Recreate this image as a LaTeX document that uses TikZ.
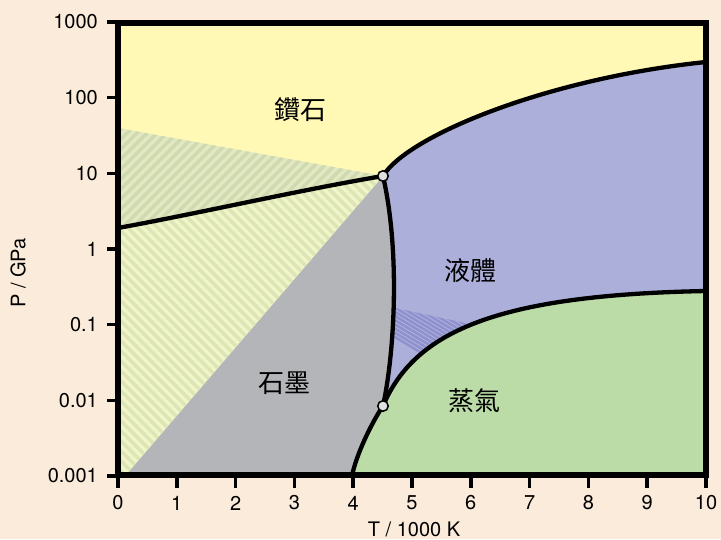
\documentclass[tikz,border=0pt]{standalone}
\usepackage{fontspec}
\setmainfont{TeX Gyre Heros}
\newfontfamily\cjk{Noto Sans CJK TC}
\definecolor{bgc}{RGB}{250,235,219}
\definecolor{diam}{RGB}{255,249,181}
\definecolor{liq}{RGB}{173,175,219}
\definecolor{vap}{RGB}{187,220,166}
\definecolor{graph}{RGB}{179,181,184}
\definecolor{hupbase}{RGB}{226,232,193}
\definecolor{hupstripe}{RGB}{208,218,176}
\definecolor{hlobase}{RGB}{240,244,198}
\definecolor{hlostripe}{RGB}{220,229,182}
\definecolor{hblue}{RGB}{142,145,206}
\begin{document}
\begin{tikzpicture}[x=1pt,y=-1pt,
  boundary/.style={line width=4.3pt,black,line cap=round},
  frameline/.style={line width=5.5pt,black},
  tickline/.style={line width=3.5pt,black},
  ticklab/.style={inner sep=0pt,font=\fontsize{20}{24}\selectfont},
  axlab/.style={inner sep=0pt,font=\fontsize{20}{24}\selectfont},
  phaselab/.style={inner sep=0pt,font=\cjk\fontsize{26}{30}\selectfont},
  triple/.style={circle,draw=black,line width=1.5pt,fill=black!12,minimum size=10.5pt,inner sep=0pt}]
\useasboundingbox (0,0) rectangle (721,539);
\fill[bgc] (0,0) rectangle (721,539);

% key points
\coordinate (TP1) at (383,176);
\coordinate (TP2) at (383,406);
\coordinate (gd0) at (118,228);
\coordinate (dl1) at (706,62);
\coordinate (lv1) at (706,291);
\coordinate (gv1) at (352,476);
\coordinate (h0) at (118,128);
\coordinate (h1) at (125,476);

% diamond (whole area)
\fill[diam] (118,23) rectangle (706,475);
% graphite
\fill[graph] (gd0) .. controls (200,213) and (300,190) .. (TP1)
  .. controls (400,250) and (395,350) .. (TP2)
  .. controls (372,422) and (356,455) .. (gv1) -- (118,476) -- cycle;
% liquid
\fill[liq] (TP1) .. controls (408,135) and (550,78) .. (dl1) -- (lv1)
  .. controls (500,295) and (415,330) .. (TP2)
  .. controls (395,350) and (400,250) .. (TP1) -- cycle;
% vapour
\fill[vap] (TP2) .. controls (415,330) and (500,295) .. (lv1) -- (706,476) -- (gv1)
  .. controls (356,455) and (372,422) .. (TP2) -- cycle;

% upper hatched region
\begin{scope}
  \clip (h0) -- (TP1) .. controls (300,190) and (200,213) .. (gd0) -- cycle;
  \fill[hupbase] (100,100) rectangle (400,260);
  \foreach \a in {-400,-390,...,420}
    \draw[hupstripe,line width=3.4pt] (\a,500) -- ++(500,-500);
\end{scope}
% lower hatched region
\begin{scope}
  \clip (gd0) .. controls (200,213) and (300,190) .. (TP1) -- (h1) -- (118,476) -- cycle;
  \fill[hlobase] (100,150) rectangle (400,480);
  \foreach \a in {-400,-390,...,420}
    \draw[hlostripe,line width=3.4pt] (\a,0) -- ++(500,500);
\end{scope}
% blue hatched region
\begin{scope}
  \clip (TP1) .. controls (408,135) and (550,78) .. (dl1) -- (lv1)
  .. controls (500,295) and (415,330) .. (TP2)
  .. controls (395,350) and (400,250) .. (TP1) -- cycle;
  \clip (370,302.5) -- (470,324) -- (480,430) -- (370,430) -- cycle;
  \foreach \a in {250,257,...,420}
    \draw[hblue,line width=2.4pt] (\a,250) -- ++(200,120);
\end{scope}

% phase boundaries
\draw[boundary] (gd0) .. controls (200,213) and (300,190) .. (TP1);
\draw[boundary] (TP1) .. controls (408,135) and (550,78) .. (dl1);
\draw[boundary] (TP1) .. controls (400,250) and (395,350) .. (TP2);
\draw[boundary] (TP2) .. controls (415,330) and (500,295) .. (lv1);
\draw[boundary] (TP2) .. controls (372,422) and (356,455) .. (gv1);

\node[triple] (t1) at (TP1) {};
\node[triple] (t2) at (TP2) {};

% frame
\draw[frameline] (118,23) rectangle (706,475);

% y ticks
\foreach \k/\lab in {0/1000,1/100,2/10,3/1,4/0.1,5/0.01,6/0.001}{
  \draw[tickline] (107,22+75.67*\k) -- (118,22+75.67*\k);
  \node[ticklab,anchor=east] (yl\k) at (98,22+75.67*\k) {\lab};
}
% x ticks
\foreach \k in {0,...,10}{
  \draw[tickline] (118+58.8*\k,475) -- (118+58.8*\k,488);
  \node[ticklab] (xl\k) at (118+58.8*\k,503) {\k};
}

\node[axlab] (xlab) at (414,529) {T / 1000 K};
\node[axlab,rotate=90] (ylab) at (18,273) {P / GPa};

\node[phaselab] (diamond) at (300,110) {鑽石};
\node[phaselab] (liquid) at (470,271) {液體};
\node[phaselab] (graphite) at (284,383) {石墨};
\node[phaselab] (vapour) at (474,401) {蒸氣};
\end{tikzpicture}
\end{document}
